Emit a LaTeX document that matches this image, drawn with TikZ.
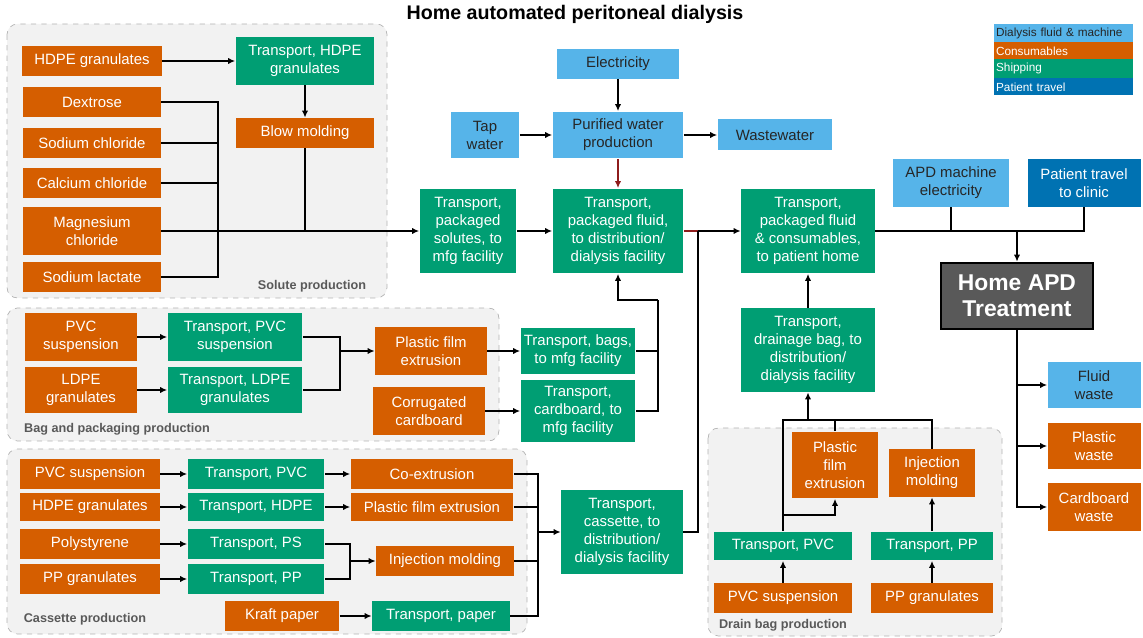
\documentclass[tikz,border=0pt]{standalone}
\usepackage{fontspec}
\setmainfont{Liberation Sans}
\usetikzlibrary{arrows.meta}
\definecolor{fluidc}{HTML}{56B4E9}
\definecolor{consc}{HTML}{D55E00}
\definecolor{shipc}{HTML}{009E73}
\definecolor{travelc}{HTML}{0072B2}
\definecolor{redc}{HTML}{8E1C1C}
\begin{document}
\begin{tikzpicture}[x=0.02cm, y=-0.02cm,
    base/.style={inner sep=1pt, align=center, font=\fontsize{8.5}{10.2}\selectfont},
    fluid/.style={base, fill=fluidc, text=black!85},
    cons/.style={base, fill=consc, text=white},
    ship/.style={base, fill=shipc, text=white},
    travel/.style={base, fill=travelc, text=white},
    grp/.style={draw=black!30, dashed, fill=black!5, rounded corners=6pt},
    grplbl/.style={font=\bfseries\fontsize{7.2}{8}\selectfont, text=black!65},
    link/.style={line width=0.9pt},
    arr/.style={link, -{Latex[length=4pt, width=3.6pt]}}]
  \useasboundingbox (0,0) rectangle (1143,638);
  \node[font=\bfseries\fontsize{11.2}{13}\selectfont] (title) at (575,14) {Home automated peritoneal dialysis};
  % groups
  \draw[grp] (7,24) rectangle (387,298);
  \draw[grp] (7,308) rectangle (499,441);
  \draw[grp] (7,449) rectangle (527,634);
  \draw[grp] (708,428) rectangle (1002,636);
  \node[grplbl] (lsol) at (312,286) {Solute production};
  \node[grplbl] (lbag) at (117,429) {Bag and packaging production};
  \node[grplbl] (lcas) at (85,619) {Cassette production};
  \node[grplbl] (ldrn) at (783,625) {Drain bag production};
  % legend
  \foreach \s/\t/\y/\h [count=\i] in {fluid/Dialysis fluid \& machine/24/18, cons/Consumables/42/17, ship/Shipping/59/19, travel/Patient travel/78/17}
    \node[\s, anchor=north west, align=left, text width=2.7cm, minimum height=\h*0.02cm, inner sep=1pt, font=\fontsize{6.7}{7}\selectfont] (leg\i) at (994,\y) {\t};
  % solute production
  \node[cons, minimum width=2.8cm, minimum height=0.6cm] (hdpe) at (92,61) {HDPE granulates};
  \node[cons, minimum width=2.76cm, minimum height=0.6cm] (dex) at (92,102) {Dextrose};
  \node[cons, minimum width=2.76cm, minimum height=0.6cm] (nacl) at (92,143) {Sodium chloride};
  \node[cons, minimum width=2.76cm, minimum height=0.6cm] (cacl) at (92,183) {Calcium chloride};
  \node[cons, minimum width=2.76cm, minimum height=0.96cm] (mag) at (92,231) {Magnesium\\chloride};
  \node[cons, minimum width=2.76cm, minimum height=0.6cm] (lac) at (92,277) {Sodium lactate};
  \node[ship, minimum width=2.78cm, minimum height=0.96cm] (thdpe) at (305,61) {Transport, HDPE\\granulates};
  \node[cons, minimum width=2.78cm, minimum height=0.6cm] (blow) at (305,133) {Blow molding};
  % fluid production
  \node[fluid, minimum width=2.44cm, minimum height=0.6cm] (elec) at (618,64) {Electricity};
  \node[fluid, minimum width=1.38cm, minimum height=0.94cm] (tap) at (485,135) {Tap\\water};
  \node[fluid, minimum width=2.62cm, minimum height=0.94cm] (pure) at (618,135) {Purified water\\production};
  \node[fluid, minimum width=2.3cm, minimum height=0.62cm] (waste) at (775,135) {Wastewater};
  \node[ship, minimum width=1.94cm, minimum height=1.7cm] (solutes) at (468,231) {Transport,\\packaged\\solutes, to\\mfg facility};
  \node[ship, minimum width=2.62cm, minimum height=1.7cm] (fluid) at (618,231) {Transport,\\packaged fluid,\\to distribution/\\dialysis facility};
  \node[ship, minimum width=2.68cm, minimum height=1.7cm] (home) at (808,231) {Transport,\\packaged fluid\\\& consumables,\\to patient home};
  \node[fluid, minimum width=2.32cm, minimum height=0.96cm] (apdel) at (951,183) {APD machine\\electricity};
  \node[travel, minimum width=2.26cm, minimum height=0.96cm] (travel) at (1084,183) {Patient travel\\to clinic};
  \node[draw=black, line width=1.5pt, fill=black!65, text=white, align=center, minimum width=3.04cm, minimum height=1.32cm, inner sep=1pt, font=\bfseries\fontsize{13}{15}\selectfont] (apd) at (1017,296) {Home APD\\Treatment};
  \node[fluid, minimum width=1.86cm, minimum height=0.94cm] (fwaste) at (1094,385) {Fluid\\waste};
  \node[cons, minimum width=1.86cm, minimum height=0.94cm] (pwaste) at (1094,446) {Plastic\\waste};
  \node[cons, minimum width=1.86cm, minimum height=0.96cm] (cwaste) at (1094,507) {Cardboard\\waste};
  % drain bag production
  \node[ship, minimum width=2.68cm, minimum height=1.68cm] (tdrain) at (808,350) {Transport,\\drainage bag, to\\distribution/\\dialysis facility};
  \node[cons, minimum width=1.72cm, minimum height=1.34cm] (dfilm) at (835,465) {Plastic\\film\\extrusion};
  \node[cons, minimum width=1.72cm, minimum height=0.96cm] (dinj) at (932,473) {Injection\\molding};
  \node[ship, minimum width=2.76cm, minimum height=0.58cm] (dtpvc) at (783,546) {Transport, PVC};
  \node[ship, minimum width=2.44cm, minimum height=0.58cm] (dtpp) at (932,546) {Transport, PP};
  \node[cons, minimum width=2.76cm, minimum height=0.6cm] (dpvc) at (783,598) {PVC suspension};
  \node[cons, minimum width=2.44cm, minimum height=0.6cm] (dpp) at (932,598) {PP granulates};
  % bag and packaging production
  \node[cons, minimum width=2.24cm, minimum height=0.96cm] (bpvc) at (81,337) {PVC\\suspension};
  \node[cons, minimum width=2.24cm, minimum height=0.94cm] (bldpe) at (81,390) {LDPE\\granulates};
  \node[ship, minimum width=2.7cm, minimum height=0.96cm] (btpvc) at (235,337) {Transport, PVC\\suspension};
  \node[ship, minimum width=2.7cm, minimum height=0.94cm] (btldpe) at (235,390) {Transport, LDPE\\granulates};
  \node[cons, minimum width=2.24cm, minimum height=0.96cm] (bfilm) at (431,351) {Plastic film\\extrusion};
  \node[cons, minimum width=2.24cm, minimum height=0.98cm] (bcard) at (429,411) {Corrugated\\cardboard};
  \node[ship, minimum width=2.3cm, minimum height=0.94cm] (tbags) at (578,351) {Transport, bags,\\to mfg facility};
  \node[ship, minimum width=2.3cm, minimum height=1.26cm] (tcard) at (578,411) {Transport,\\cardboard, to\\mfg facility};
  % cassette production
  \node[cons, minimum width=2.8cm, minimum height=0.6cm] (cpvc) at (90,474) {PVC suspension};
  \node[cons, minimum width=2.8cm, minimum height=0.58cm] (chdpe) at (90,507) {HDPE granulates};
  \node[cons, minimum width=2.8cm, minimum height=0.6cm] (cps) at (90,544) {Polystyrene};
  \node[cons, minimum width=2.8cm, minimum height=0.6cm] (cpp) at (90,579) {PP granulates};
  \node[ship, minimum width=2.74cm, minimum height=0.6cm] (ctpvc) at (256,474) {Transport, PVC};
  \node[ship, minimum width=2.74cm, minimum height=0.58cm] (cthdpe) at (256,507) {Transport, HDPE};
  \node[ship, minimum width=2.74cm, minimum height=0.6cm] (ctps) at (256,544) {Transport, PS};
  \node[ship, minimum width=2.74cm, minimum height=0.6cm] (ctpp) at (256,579) {Transport, PP};
  \node[cons, minimum width=3.26cm, minimum height=0.6cm] (coex) at (432,474) {Co-extrusion};
  \node[cons, minimum width=3.26cm, minimum height=0.58cm] (cfilm) at (432,507) {Plastic film extrusion};
  \node[cons, minimum width=2.76cm, minimum height=0.6cm] (cinj) at (445,561) {Injection molding};
  \node[cons, minimum width=2.3cm, minimum height=0.6cm] (kraft) at (282,616) {Kraft paper};
  \node[ship, minimum width=2.76cm, minimum height=0.6cm] (tpaper) at (441,616) {Transport, paper};
  \node[ship, minimum width=2.44cm, minimum height=1.68cm] (cass) at (622,532) {Transport,\\cassette, to\\distribution/\\dialysis facility};
  % junctions
  \coordinate (sbus) at (218,231);
  \coordinate (fj) at (698,231);
  \coordinate (bj) at (658,300);
  \coordinate (aj) at (1017,231);
  \coordinate (dj) at (808,420);
  \coordinate (dk) at (783,515);
  \coordinate (bk) at (340,351);
  \coordinate (ck) at (350,561);
  \coordinate (cj) at (538,532);
  % solute links
  \draw[arr] (hdpe) -- (thdpe);
  \draw[arr] (thdpe) -- (blow);
  \draw[link] (dex.east) -| (sbus); \draw[link] (nacl.east) -| (sbus);
  \draw[link] (cacl.east) -| (sbus); \draw[link] (lac.east) -| (sbus);
  \draw[link] (blow.south) -- (blow.south |- sbus);
  \draw[arr] (mag.east) -- (solutes.west);
  % fluid links
  \draw[arr] (elec) -- (pure);
  \draw[arr] (tap) -- (pure);
  \draw[arr] (pure) -- (waste);
  \draw[arr, redc] (pure) -- (fluid);
  \draw[arr] (solutes) -- (fluid);
  \draw[link, redc] (fluid.east) -- (fj);
  \draw[arr] (fj) -- (home.west);
  \draw[link] (cass.east) -| (fj);
  \draw[link] (tbags.east) -| (bj); \draw[link] (tcard.east) -| (bj);
  \draw[arr] (bj) -| (fluid.south);
  \draw[link] (home.east) -- (aj);
  \draw[link] (apdel.south) -- (apdel.south |- aj);
  \draw[link] (travel.south) |- (aj);
  \draw[arr] (aj) -- (apd.north);
  \draw[arr] (apd.south) |- (fwaste.west);
  \draw[arr] (apd.south) |- (pwaste.west);
  \draw[arr] (apd.south) |- (cwaste.west);
  % drain bag links
  \draw[arr] (dpvc) -- (dtpvc); \draw[arr] (dpp) -- (dtpp);
  \draw[arr] (dtpp) -- (dinj);
  \draw[link] (dtpvc.north) |- (dj); \draw[link] (dinj.north) |- (dj);
  \draw[link] (dfilm.north) -- (dfilm.north |- dj);
  \draw[arr] (dk) -| (dfilm.south);
  \draw[arr] (dj) -- (tdrain.south);
  \draw[arr] (tdrain) -- (home);
  % bag links
  \draw[arr] (bpvc) -- (btpvc); \draw[arr] (bldpe) -- (btldpe);
  \draw[link] (btpvc.east) -| (bk); \draw[link] (btldpe.east) -| (bk);
  \draw[arr] (bk) -- (bfilm.west);
  \draw[arr] (bfilm) -- (tbags);
  \draw[arr] (bcard) -- (tcard);
  % cassette links
  \draw[arr] (cpvc) -- (ctpvc); \draw[arr] (ctpvc) -- (coex);
  \draw[arr] (chdpe) -- (cthdpe); \draw[arr] (cthdpe) -- (cfilm);
  \draw[arr] (cps) -- (ctps); \draw[arr] (cpp) -- (ctpp);
  \draw[link] (ctps.east) -| (ck); \draw[link] (ctpp.east) -| (ck);
  \draw[arr] (ck) -- (cinj.west);
  \draw[arr] (kraft) -- (tpaper);
  \draw[link] (coex.east) -| (cj); \draw[link] (cfilm.east) -| (cj);
  \draw[link] (cinj.east) -| (cj); \draw[link] (tpaper.east) -| (cj);
  \draw[arr] (cj) -- (cass.west);
\end{tikzpicture}
\end{document}
